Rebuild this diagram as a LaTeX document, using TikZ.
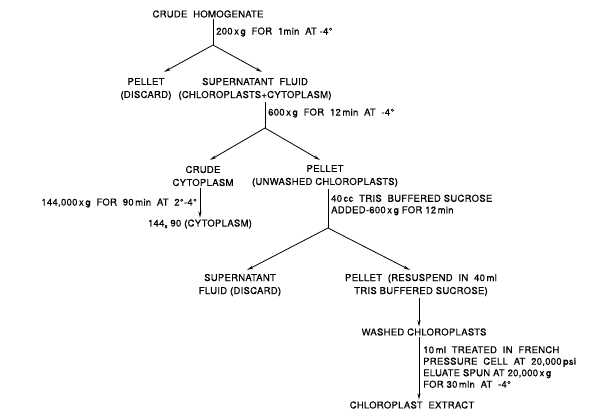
\documentclass[tikz,border=0pt]{standalone}
\usepackage{fontspec}
\setmainfont{TeX Gyre Heros}[LetterSpace=3,FakeBold=0.5]
\usetikzlibrary{arrows.meta}
\begin{document}
\begin{tikzpicture}[x=1pt,y=-1pt,
  txt/.style={inner sep=1.5pt, align=center, font=\fontsize{9.5}{13}\selectfont},
  lbl/.style={inner sep=0pt, align=left, font=\fontsize{9.5}{11.5}\selectfont},
  ln/.style={line width=0.8pt},
  arr/.style={line width=0.8pt, -{Stealth[length=6.5pt,width=3pt]}}]
\useasboundingbox (0,0) rectangle (597,411);
% nodes
\node[txt] (ch) at (208,14) {CRUDE\ \ HOMOGENATE};
\coordinate (v1) at (213,45);
\node[lbl,anchor=west] (l1) at (216,32) {200\,x\,g\ \ FOR\ \ 1min\ \ AT\ -4°};
\coordinate (t1a) at (164,72);
\coordinate (t1b) at (262,72);
\node[txt] (p1) at (146,89) {PELLET\\(DISCARD)};
\node[txt] (s1) at (255,89) {SUPERNATANT\ \ FLUID\\(CHLOROPLASTS+CYTOPLASM)};
\coordinate (v2) at (265,128);
\node[lbl,anchor=west] (l2) at (268,113) {600\,x\,g\ \ FOR\ \ 12\,min\ \ AT\ \ -4°};
\coordinate (t2a) at (210,160);
\coordinate (t2b) at (320,160);
\node[txt] (cc) at (203,176) {CRUDE\\CYTOPLASM};
\node[txt] (pu) at (325,176) {PELLET\\(UNWASHED CHLOROPLASTS)};
\node[lbl,anchor=east] (l3) at (197,203) {144,000\,x\,g\ \ FOR\ \ 90\,min\ \ AT\ \ 2°-4°};
\node[txt] (c90) at (200,224) {144\raisebox{-0.35ex}{\fontsize{6}{6}\selectfont s} 90 (CYTOPLASM)};
\coordinate (v4) at (328,228);
\node[lbl,anchor=west] (l4) at (331,205) {40\,cc\ \ TRIS\ \ BUFFERED\ SUCROSE\\ADDED-600\,x\,g FOR\ 12\,min};
\coordinate (t4a) at (247,270);
\coordinate (t4b) at (410,270);
\node[txt] (sf) at (240,285) {SUPERNATANT\\FLUID (DISCARD)};
\node[txt] (pr) at (421,285) {PELLET\ \ (RESUSPEND\ \ IN\ \ 40\,ml\\TRIS\ BUFFERED\ SUCROSE)};
\coordinate (ax) at (419,0);
\node[txt] (wc) at (424,332) {WASHED\ CHLOROPLASTS};
\node[lbl,anchor=west] (l5) at (423,367) {10\,ml\ \ TREATED\ \ IN\ \ FRENCH\\PRESSURE\ \ CELL\ \ AT\ \ 20,000\,psi\\ELUATE\ SPUN\ AT\ 20,000\,x\,g\\FOR\ 30\,min\ \ AT\ \ -4°};
\node[txt] (ce) at (412,405) {CHLOROPLAST\ \ EXTRACT};
% connectors
\draw[ln] (ch.south -| v1) -- (v1);
\draw[arr] (v1) -- (t1a);
\draw[arr] (v1) -- (t1b);
\draw[ln] (s1.south -| v2) -- (v2);
\draw[arr] (v2) -- (t2a);
\draw[arr] (v2) -- (t2b);
\draw[arr] (cc.south -| c90.north) -- (c90.north);
\draw[ln] (pu.south -| v4) -- (v4);
\draw[arr] (v4) -- (t4a);
\draw[arr] (v4) -- (t4b);
\draw[arr] (pr.south -| ax) -- (wc.north -| ax);
\draw[arr] (wc.south -| ax) -- (ce.north -| ax);
\end{tikzpicture}
\end{document}
